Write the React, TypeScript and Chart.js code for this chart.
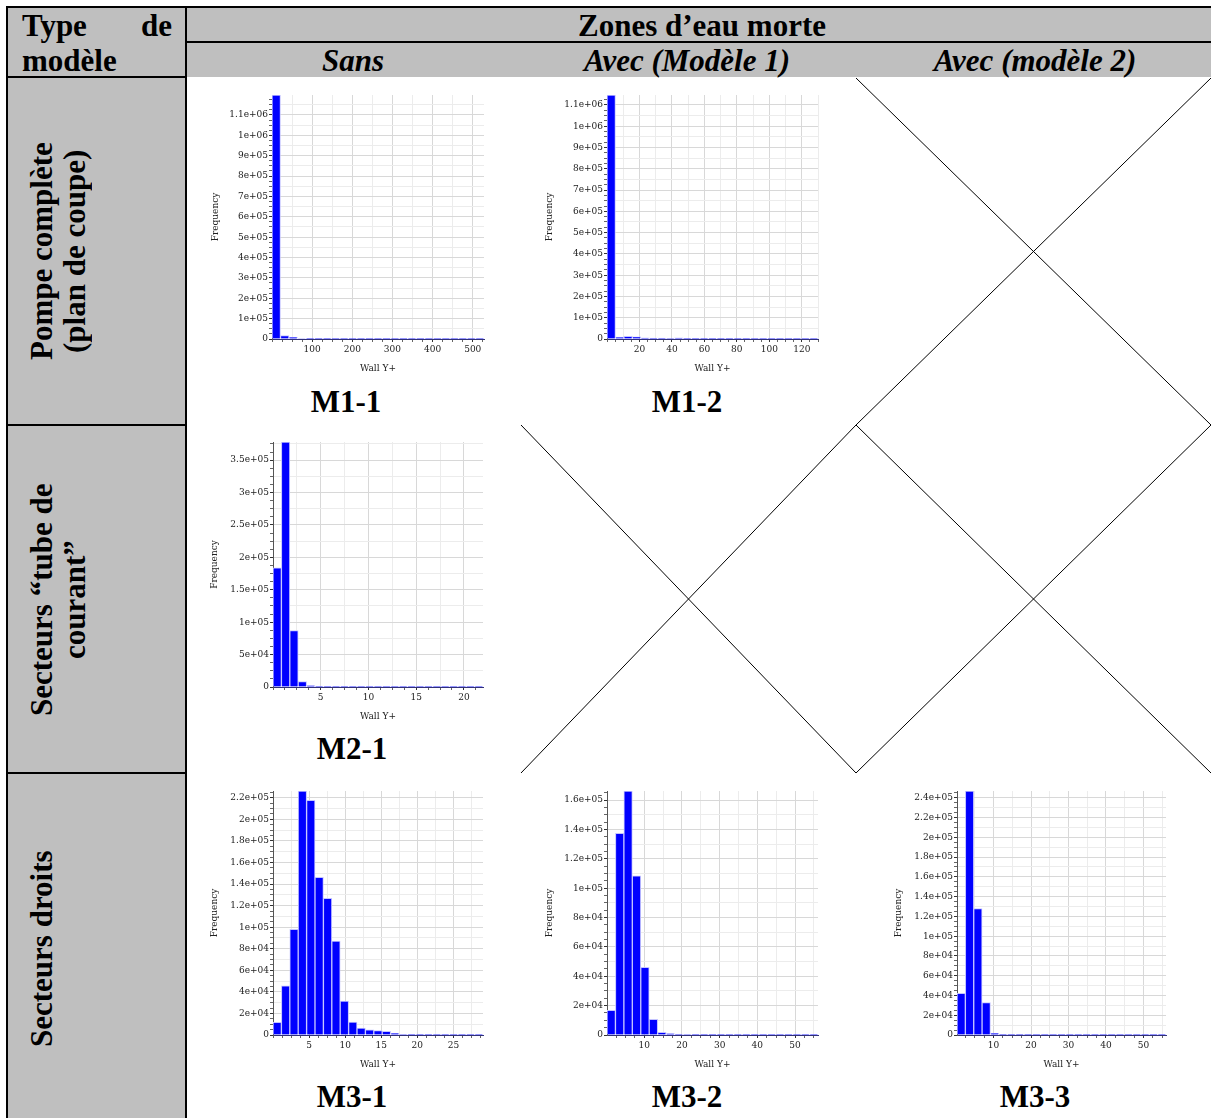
import React, { useEffect, useRef } from "react";
import { Chart, registerables } from "chart.js";

Chart.register(...registerables);

// ---------------- DATA ----------------
// M1-1 : Pompe complète, sans zones d'eau morte
const m11Bins = [10.6, 31.7, 52.8, 73.9, 95.0, 116.2, 137.3, 158.4, 179.5, 200.6, 221.8, 242.9, 264.0, 285.1, 306.2, 327.4, 348.5, 369.6, 390.7, 411.8, 433.0, 454.1, 475.2, 496.3, 517.4];
const m11Counts = [1198000, 17000, 8000, 2500, 1200, 800, 500, 400, 300, 250, 200, 150, 120, 100, 80, 70, 60, 50, 40, 30, 25, 20, 15, 10, 10];
const m11XRange = [0, 528];
const m11XTicks = [100, 200, 300, 400, 500];
const m11YTicks = [0, 100000, 200000, 300000, 400000, 500000, 600000, 700000, 800000, 900000, 1000000, 1100000];

// M1-2 : Pompe complète, avec (Modèle 1)
const m12Bins = [2.6, 7.8, 13.0, 18.2, 23.4, 28.6, 33.8, 39.0, 44.2, 49.4, 54.6, 59.8, 65.0, 70.2, 75.4, 80.6, 85.8, 91.0, 96.2, 101.4, 106.6, 111.8, 117.0, 122.2, 127.4];
const m12Counts = [1147000, 9000, 13000, 10000, 5000, 4000, 4000, 2000, 5000, 1500, 1200, 1000, 1000, 800, 900, 600, 500, 400, 300, 300, 200, 200, 100, 100, 100];
const m12XRange = [0, 130];
const m12XTicks = [20, 40, 60, 80, 100, 120];
const m12YTicks = [0, 100000, 200000, 300000, 400000, 500000, 600000, 700000, 800000, 900000, 1000000, 1100000];

// M2-1 : Secteurs "tube de courant", sans
const m21Bins = [0.44, 1.32, 2.20, 3.08, 3.96, 4.84, 5.72, 6.60, 7.48, 8.36, 9.24, 10.12, 11.00, 11.88, 12.76, 13.64, 14.52, 15.40, 16.28, 17.16, 18.04, 18.92, 19.80, 20.68, 21.56];
const m21Counts = [183800, 378000, 87000, 8200, 2000, 600, 300, 200, 150, 100, 80, 60, 50, 40, 30, 25, 20, 15, 10, 10, 10, 5, 5, 5, 5];
const m21XRange = [0, 22];
const m21XTicks = [5, 10, 15, 20];
const m21YTicks = [0, 50000, 100000, 150000, 200000, 250000, 300000, 350000];

// M3-1 : Secteurs droits, sans
const m31Bins = [0.58, 1.75, 2.91, 4.07, 5.24, 6.40, 7.57, 8.73, 9.89, 11.06, 12.22, 13.39, 14.55, 15.71, 16.88, 18.04, 19.21, 20.37, 21.53, 22.70, 23.86, 25.03, 26.19, 27.35, 28.52];
const m31Counts = [11700, 45700, 98000, 226300, 217600, 146200, 126700, 87200, 31500, 12000, 6500, 4900, 4000, 3400, 1500, 400, 200, 150, 100, 80, 60, 40, 30, 20, 10];
const m31XRange = [0, 29.1];
const m31XTicks = [5, 10, 15, 20, 25];
const m31YTicks = [0, 20000, 40000, 60000, 80000, 100000, 120000, 140000, 160000, 180000, 200000, 220000];

// M3-2 : Secteurs droits, avec (Modèle 1)
const m32Bins = [1.22, 3.46, 5.70, 7.94, 10.18, 12.42, 14.66, 16.90, 19.14, 21.38, 23.62, 25.86, 28.10, 30.34, 32.58, 34.82, 37.06, 39.30, 41.54, 43.78, 46.02, 48.26, 50.50, 52.74, 54.98];
const m32Counts = [16800, 137300, 166200, 108500, 46100, 10700, 1800, 900, 700, 400, 200, 150, 100, 80, 60, 50, 40, 30, 20, 20, 10, 10, 10, 10, 10];
const m32XRange = [0.1, 56.1];
const m32XTicks = [10, 20, 30, 40, 50];
const m32YTicks = [0, 20000, 40000, 60000, 80000, 100000, 120000, 140000, 160000];

// M3-3 : Secteurs droits, avec (modèle 2)
const m33Bins = [1.36, 3.59, 5.82, 8.05, 10.28, 12.52, 14.75, 16.98, 19.21, 21.44, 23.68, 25.91, 28.14, 30.37, 32.60, 34.84, 37.07, 39.30, 41.53, 43.76, 46.00, 48.23, 50.46, 52.69, 54.92];
const m33Counts = [42200, 246900, 128000, 32700, 1700, 700, 300, 150, 100, 80, 60, 40, 30, 20, 20, 10, 10, 10, 10, 10, 5, 5, 5, 5, 5];
const m33XRange = [0.24, 56.04];
const m33XTicks = [10, 20, 30, 40, 50];
const m33YTicks = [0, 20000, 40000, 60000, 80000, 100000, 120000, 140000, 160000, 180000, 200000, 220000, 240000];

// ---------------- LAYOUT ----------------
type Spec = {
  bins: number[];
  counts: number[];
  xRange: number[];
  xTicks: number[];
  xMinor: number;
  yTicks: number[];
  yMinor: number;
  plot: number[]; // L, T, R, B (page px)
  freqX: number;
};

const specs: Spec[] = [
  { bins: m11Bins, counts: m11Counts, xRange: m11XRange, xTicks: m11XTicks, xMinor: 25, yTicks: m11YTicks, yMinor: 25000, plot: [272, 95, 484, 339], freqX: 216 },
  { bins: m12Bins, counts: m12Counts, xRange: m12XRange, xTicks: m12XTicks, xMinor: 5, yTicks: m12YTicks, yMinor: 25000, plot: [607, 95, 818, 339], freqX: 550 },
  { bins: m21Bins, counts: m21Counts, xRange: m21XRange, xTicks: m21XTicks, xMinor: 1.25, yTicks: m21YTicks, yMinor: 12500, plot: [273, 442, 483, 687], freqX: 215 },
  { bins: m31Bins, counts: m31Counts, xRange: m31XRange, xTicks: m31XTicks, xMinor: 1.25, yTicks: m31YTicks, yMinor: 5000, plot: [273, 791, 483, 1035], freqX: 215 },
  { bins: m32Bins, counts: m32Counts, xRange: m32XRange, xTicks: m32XTicks, xMinor: 2.5, yTicks: m32YTicks, yMinor: 5000, plot: [607, 791, 818, 1035], freqX: 550 },
  { bins: m33Bins, counts: m33Counts, xRange: m33XRange, xTicks: m33XTicks, xMinor: 2.5, yTicks: m33YTicks, yMinor: 5000, plot: [957, 791, 1166, 1035], freqX: 897 },
];

function sci(v: number): string {
  if (v === 0) return "0";
  const s = v.toExponential();
  const [m, e] = s.split("e");
  const sign = e[0];
  const d = e.slice(1).padStart(2, "0");
  return m + "e" + sign + d;
}

function minorTicks(min: number, max: number, step: number) {
  const out: { value: number }[] = [];
  for (let k = Math.ceil(min / step - 1e-9); k * step <= max + 1e-9; k++) {
    out.push({ value: Math.round(k * step * 1e6) / 1e6 });
  }
  return out;
}

function findMajor(list: number[], v: number, step: number) {
  for (const m of list) if (Math.abs(m - v) < step * 1e-3) return m;
  return null;
}

function gridKind(list: number[], v: number, step: number) {
  if (findMajor(list, v, step) !== null) return 2;
  const major = list[1] - list[0];
  const half = major / 2;
  const r = v / half;
  if (Math.abs(r - Math.round(r)) < 1e-6) return 1;
  return 0;
}

const YW = 64;
const PAD_T = 8;
const PAD_R = 8;
const XH = 35;
const FONT = { family: "DejaVu Serif", size: 9 };
const GRID_COLORS = ["rgba(0,0,0,0)", "#ececec", "#d8d8d8"];

function Hist({ spec }: { spec: Spec }) {
  const ref = useRef<HTMLCanvasElement | null>(null);
  const [L, T, R, B] = spec.plot;
  const W = R - L + YW + PAD_R;
  const H = B - T + PAD_T + XH;
  useEffect(() => {
    const yMax = Math.max(...spec.counts);
    const chart = new Chart(ref.current as HTMLCanvasElement, {
      type: "bar",
      data: {
        labels: spec.bins.map(String),
        datasets: [
          {
            data: spec.counts,
            xAxisID: "xc",
            yAxisID: "y",
            backgroundColor: "#0000ff",
            borderColor: "#c4c4ff",
            borderWidth: 1,
            barPercentage: 1,
            categoryPercentage: 1,
          },
        ],
      },
      options: {
        animation: false,
        responsive: false,
        events: [],
        layout: { padding: { top: PAD_T, right: PAD_R, left: 0, bottom: 0 } },
        plugins: { legend: { display: false }, tooltip: { enabled: false } },
        scales: {
          xc: { type: "category", display: false, offset: true },
          x: {
            type: "linear",
            position: "bottom",
            min: spec.xRange[0],
            max: spec.xRange[1],
            offset: false,
            afterBuildTicks: (s: any) => {
              s.ticks = minorTicks(spec.xRange[0], spec.xRange[1], spec.xMinor);
            },
            afterFit: (s: any) => {
              s.height = XH;
              s.paddingLeft = 0;
              s.paddingRight = 0;
            },
            grid: {
              offset: false,
              color: (c: any) => GRID_COLORS[gridKind(spec.xTicks, c.tick.value, spec.xMinor)],
              tickColor: (c: any) => (findMajor(spec.xTicks, c.tick.value, spec.xMinor) !== null ? "#333" : "#666"),
              tickLength: 3,
              drawTicks: true,
            },
            border: { display: true, color: "#30307a", width: 1 },
            ticks: {
              autoSkip: false,
              maxRotation: 0,
              padding: 2,
              color: "#222",
              font: FONT,
              callback: (v: any) => {
                const m = findMajor(spec.xTicks, Number(v), spec.xMinor);
                return m === null ? "" : String(m);
              },
            },
            title: { display: true, text: "Wall Y+", color: "#222", font: FONT, padding: { top: 0, bottom: 0 } },
          },
          y: {
            type: "linear",
            min: 0,
            max: yMax,
            afterBuildTicks: (s: any) => {
              s.ticks = minorTicks(0, yMax, spec.yMinor);
            },
            afterFit: (s: any) => {
              s.width = YW;
              s.paddingTop = 0;
              s.paddingBottom = 0;
            },
            grid: {
              color: (c: any) => GRID_COLORS[gridKind(spec.yTicks, c.tick.value, spec.yMinor)],
              tickColor: (c: any) => (findMajor(spec.yTicks, c.tick.value, spec.yMinor) !== null ? "#333" : "#666"),
              tickLength: 3,
              drawTicks: true,
            },
            border: { display: true, color: "#555", width: 1 },
            ticks: {
              autoSkip: false,
              padding: 1,
              color: "#222",
              font: FONT,
              callback: (v: any) => {
                const m = findMajor(spec.yTicks, Number(v), spec.yMinor);
                return m === null ? "" : sci(m);
              },
            },
            title: {
              display: true,
              text: "Frequency",
              color: "#222",
              font: FONT,
              padding: { top: Math.max(0, spec.freqX - (L - YW) - 5.4), bottom: 0 },
            },
          },
        },
      } as any,
    });
    return () => chart.destroy();
  }, []);
  return (
    <canvas
      ref={ref}
      width={W}
      height={H}
      style={{ position: "absolute", left: L - YW, top: T - PAD_T, width: W, height: H }}
    />
  );
}

const HEAD: React.CSSProperties = {
  position: "absolute",
  fontFamily: "'Liberation Serif', serif",
  fontWeight: "bold",
  fontSize: 31,
  lineHeight: "31px",
  whiteSpace: "nowrap",
  color: "#000",
};

function Txt(props: { x: number; top: number; children: React.ReactNode; italic?: boolean; align?: "left" | "center" | "right" }) {
  const { x, top, children, italic, align = "center" } = props;
  const tr = align === "center" ? "translateX(-50%)" : align === "right" ? "translateX(-100%)" : "none";
  return (
    <div style={{ ...HEAD, left: x, top, transform: tr, fontStyle: italic ? "italic" : "normal" }}>{children}</div>
  );
}

function VText(props: { left: number; top: number; height: number; lines: number; children: React.ReactNode }) {
  const { left, top, height, lines, children } = props;
  return (
    <div
      style={{
        ...HEAD,
        left,
        top,
        height,
        width: lines * 33,
        lineHeight: "33px",
        writingMode: "vertical-rl",
        transform: "rotate(180deg)",
        textAlign: "center",
      }}
    >
      {children}
    </div>
  );
}

function Rect(props: { l: number; t: number; w: number; h: number; c: string }) {
  return <div style={{ position: "absolute", left: props.l, top: props.t, width: props.w, height: props.h, background: props.c }} />;
}

export default function App() {
  const G = "#bfbfbf";
  return (
    <div style={{ position: "absolute", left: 0, top: 0, width: 1211, height: 1118, overflow: "hidden", background: "#fff" }}>
      {/* grey backgrounds */}
      <Rect l={8} t={8} w={1203} h={69} c={G} />
      <Rect l={8} t={8} w={178} h={1110} c={G} />
      {/* borders */}
      <Rect l={6} t={6} w={1205} h={2} c="#000" />
      <Rect l={6} t={6} w={2} h={1112} c="#000" />
      <Rect l={185} t={6} w={2} h={1112} c="#000" />
      <Rect l={185} t={41} w={1026} h={2} c="#000" />
      <Rect l={6} t={76} w={181} h={2} c="#000" />
      <Rect l={6} t={424} w={181} h={2} c="#000" />
      <Rect l={6} t={772} w={181} h={2} c="#000" />

      {/* header texts */}
      <Txt x={22} top={10} align="left">Type</Txt>
      <Txt x={172} top={10} align="right">de</Txt>
      <Txt x={22} top={45} align="left">modèle</Txt>
      <Txt x={702} top={10}>Zones d’eau morte</Txt>
      <Txt x={353} top={45} italic>Sans</Txt>
      <Txt x={687} top={45} italic>Avec (Modèle 1)</Txt>
      <Txt x={1035} top={45} italic>Avec (modèle 2)</Txt>

      {/* row headers (rotated) */}
      <VText left={25} top={78} height={347} lines={2}>
        Pompe complète<br />(plan de coupe)
      </VText>
      <VText left={25} top={426} height={347} lines={2}>
        Secteurs “tube de<br />courant”
      </VText>
      <VText left={25} top={774} height={350} lines={1}>
        Secteurs droits
      </VText>

      {/* crossed-out cells */}
      <svg width={1211} height={1118} style={{ position: "absolute", left: 0, top: 0 }}>
        <line x1={856} y1={78} x2={1211} y2={425} stroke="#000" strokeWidth={1} />
        <line x1={1211} y1={78} x2={856} y2={425} stroke="#000" strokeWidth={1} />
        <line x1={521} y1={425} x2={856} y2={773} stroke="#000" strokeWidth={1} />
        <line x1={856} y1={425} x2={521} y2={773} stroke="#000" strokeWidth={1} />
        <line x1={856} y1={425} x2={1211} y2={773} stroke="#000" strokeWidth={1} />
        <line x1={1211} y1={425} x2={856} y2={773} stroke="#000" strokeWidth={1} />
      </svg>

      {specs.map((s, i) => (
        <Hist key={i} spec={s} />
      ))}

      {/* chart labels */}
      <Txt x={346} top={386}>M1-1</Txt>
      <Txt x={687} top={386}>M1-2</Txt>
      <Txt x={352} top={733}>M2-1</Txt>
      <Txt x={352} top={1081}>M3-1</Txt>
      <Txt x={687} top={1081}>M3-2</Txt>
      <Txt x={1035} top={1081}>M3-3</Txt>
    </div>
  );
}
